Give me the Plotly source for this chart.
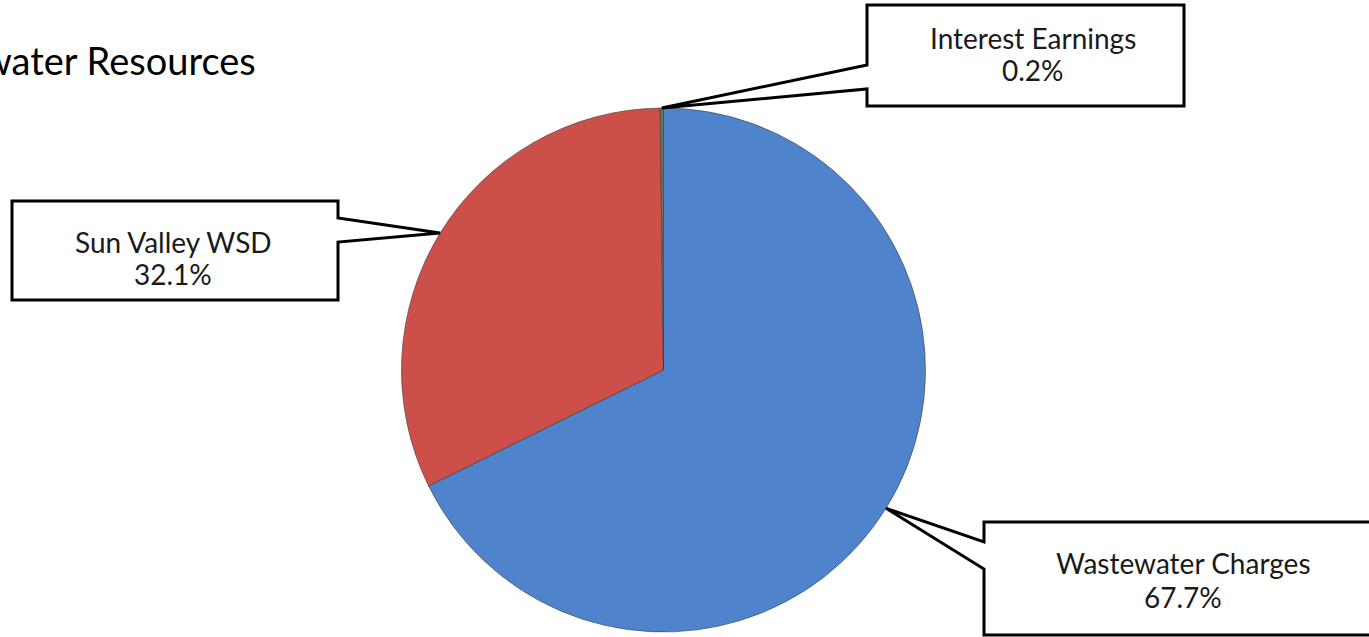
import math
import plotly.graph_objects as go

# ---- data ----
categories = ["Wastewater Charges", "Sun Valley WSD", "Interest Earnings"]
shares = [67.7, 32.1, 0.2]
slice_colors = ["#4F84CC", "#CD4F49", "#6F7455"]
title_text = "Wastewater Resources"

# ---- layout constants (pixels) ----
W, H = 1369, 637
CX, CY, R = 663.5, 370.0, 262.0

def px(x):
    return x / W

def py(y):
    return 1 - y / H

fig = go.Figure()
fig.add_trace(go.Pie(
    labels=categories, values=shares, sort=False, direction="clockwise",
    rotation=0, textinfo="none", hoverinfo="label+percent", showlegend=False,
    marker=dict(colors=slice_colors, line=dict(color="#3a3a3a", width=0.6)),
    domain=dict(x=[px(CX - R), px(CX + R)], y=[py(CY + R), py(CY - R)]),
))

# pointer tips at the angular middle of each slice
total = sum(shares)
tips = []
cum = 0.0
for v in shares:
    mid = (cum + v / 2) / total * 2 * math.pi
    tips.append((CX + R * math.sin(mid), CY - R * math.cos(mid)))
    cum += v

# callout boxes: (left, top, right, bottom, notch side, notch y1, notch y2, text x, line1 y, line2 y)
boxes = {
    "Wastewater Charges": (984, 522, 1380, 635, "left", 542, 569, 1183, 563, 597),
    "Sun Valley WSD": (12, 201, 338, 300, "right", 218, 242, 173, 242, 274),
    "Interest Earnings": (867, 5, 1184, 106, "left", 65, 89, 1033, 38, 70),
}

font_family = "Lato, 'Open Sans', sans-serif"
for cat, v, tip in zip(categories, shares, tips):
    l, t, r, b, side, n1, n2, tx, y1, y2 = boxes[cat]
    if side == "left":
        pts = [(l, t), (r, t), (r, b), (l, b), (l, n2), tip, (l, n1)]
    else:
        pts = [(l, t), (r, t), (r, n1), tip, (r, n2), (r, b), (l, b)]
    path = "M " + " L ".join(f"{px(x):.6f},{py(y):.6f}" for x, y in pts) + " Z"
    fig.add_shape(type="path", path=path, xref="paper", yref="paper",
                  line=dict(color="black", width=3), fillcolor="white", layer="above")
    pct = v / total * 100
    fig.add_annotation(x=px(tx), y=py(y1), xref="paper", yref="paper", text=cat,
                       showarrow=False, xanchor="center", yanchor="middle",
                       font=dict(family=font_family, size=28, color="#1a1a1a"))
    fig.add_annotation(x=px(tx), y=py(y2), xref="paper", yref="paper", text=f"{pct:.1f}%",
                       showarrow=False, xanchor="center", yanchor="middle",
                       font=dict(family=font_family, size=28, color="#1a1a1a"))

fig.add_annotation(x=px(258), y=py(60), xref="paper", yref="paper", text=title_text,
                   showarrow=False, xanchor="right", yanchor="middle",
                   font=dict(family=font_family, size=38, color="black"))

fig.update_layout(width=W, height=H, margin=dict(l=0, r=0, t=0, b=0),
                  paper_bgcolor="white", plot_bgcolor="white")
fig.write_html("out.html")
